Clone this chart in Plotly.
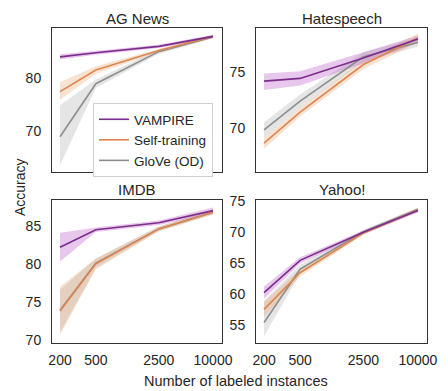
import plotly.graph_objects as go
from plotly.subplots import make_subplots

sizes = [200, 500, 2500, 10000]
x_ticks = [200, 500, 2500, 10000]
x_ticklabels = ["200", "500", "2500", "10000"]
series_names = ["VAMPIRE", "Self-training", "GloVe (OD)"]

# AG News
ag_vampire = [84.1, 84.9, 86.1, 88.0]
ag_vampire_lo = [83.6, 84.5, 85.8, 87.7]
ag_vampire_hi = [84.6, 85.3, 86.4, 88.3]
ag_self = [77.5, 81.6, 85.3, 88.0]
ag_self_lo = [75.9, 80.9, 85.0, 87.7]
ag_self_hi = [79.3, 82.3, 85.6, 88.3]
ag_glove = [68.9, 79.0, 85.1, 87.9]
ag_glove_lo = [63.5, 78.2, 84.7, 87.6]
ag_glove_hi = [74.9, 79.8, 85.5, 88.2]

# Hatespeech
hs_vampire = [74.2, 74.45, 76.3, 78.0]
hs_vampire_lo = [73.4, 73.8, 75.8, 77.7]
hs_vampire_hi = [74.9, 75.1, 76.8, 78.3]
hs_self = [68.6, 71.4, 75.7, 78.1]
hs_self_lo = [68.1, 71.0, 75.3, 77.7]
hs_self_hi = [69.1, 71.8, 76.1, 78.5]
hs_glove = [69.8, 72.4, 76.4, 77.7]
hs_glove_lo = [69.1, 71.8, 76.0, 77.3]
hs_glove_hi = [70.5, 73.0, 76.8, 78.1]

# IMDB
im_vampire = [82.2, 84.5, 85.4, 87.0]
im_vampire_lo = [80.3, 84.2, 85.1, 86.6]
im_vampire_hi = [84.1, 84.8, 85.7, 87.4]
im_self = [73.8, 80.0, 84.6, 86.8]
im_self_lo = [70.7, 79.3, 84.3, 86.5]
im_self_hi = [77.0, 80.7, 84.9, 87.1]
im_glove = [73.9, 80.1, 84.6, 86.8]
im_glove_lo = [71.0, 79.5, 84.3, 86.5]
im_glove_hi = [76.6, 80.7, 84.9, 87.1]

# Yahoo!
ya_vampire = [60.2, 65.4, 69.9, 73.4]
ya_vampire_lo = [59.2, 64.9, 69.6, 73.1]
ya_vampire_hi = [61.2, 65.9, 70.2, 73.7]
ya_self = [57.5, 63.4, 69.8, 73.5]
ya_self_lo = [56.3, 62.8, 69.5, 73.2]
ya_self_hi = [58.7, 64.0, 70.1, 73.8]
ya_glove = [55.4, 64.0, 70.0, 73.6]
ya_glove_lo = [53.2, 63.3, 69.7, 73.3]
ya_glove_hi = [58.9, 64.7, 70.3, 73.9]

panels = [
    ("AG News", 1, 1, [(ag_vampire, ag_vampire_lo, ag_vampire_hi),
                       (ag_self, ag_self_lo, ag_self_hi),
                       (ag_glove, ag_glove_lo, ag_glove_hi)],
     [62.2, 89.6], [70, 80]),
    ("Hatespeech", 1, 2, [(hs_vampire, hs_vampire_lo, hs_vampire_hi),
                          (hs_self, hs_self_lo, hs_self_hi),
                          (hs_glove, hs_glove_lo, hs_glove_hi)],
     [66.0, 79.0], [70, 75]),
    ("IMDB", 2, 1, [(im_vampire, im_vampire_lo, im_vampire_hi),
                    (im_self, im_self_lo, im_self_hi),
                    (im_glove, im_glove_lo, im_glove_hi)],
     [69.6, 88.4], [70, 75, 80, 85]),
    ("Yahoo!", 2, 2, [(ya_vampire, ya_vampire_lo, ya_vampire_hi),
                      (ya_self, ya_self_lo, ya_self_hi),
                      (ya_glove, ya_glove_lo, ya_glove_hi)],
     [52.1, 75.1], [55, 60, 65, 70, 75]),
]

line_colors = ["#7b2d8b", "#dc8650", "#8e8e8e"]
band_colors = ["rgba(185,95,200,0.35)", "rgba(230,150,90,0.28)", "rgba(150,150,150,0.25)"]

# The page body has an 8px margin; the figure is sized/placed to compensate.
OFF = 8
W, H = 448 - OFF, 391 - OFF


def px_x(s):
    return (s - OFF) / W


def px_y(s):
    return 1 - (s - OFF) / H


xdom_left = [px_x(52), px_x(222)]
xdom_right = [px_x(256), px_x(427)]
ydom_top = [px_y(172), px_y(28)]
ydom_bot = [px_y(343), px_y(200)]

fig = make_subplots(rows=2, cols=2)
font_family = "Liberation Sans, Arial, sans-serif"
text_color = "#262626"

for title, r, c, series, yr, yticks in panels:
    order = [2, 1, 0]  # grey first, purple on top
    for i in order:
        mid, lo, hi = series[i]
        fig.add_trace(go.Scatter(x=sizes, y=hi, mode="lines", line=dict(width=0),
                                 showlegend=False, hoverinfo="skip"), row=r, col=c)
        fig.add_trace(go.Scatter(x=sizes, y=lo, mode="lines", line=dict(width=0),
                                 fill="tonexty", fillcolor=band_colors[i],
                                 showlegend=False, hoverinfo="skip"), row=r, col=c)
    for i in order:
        mid, lo, hi = series[i]
        fig.add_trace(go.Scatter(x=sizes, y=mid, mode="lines",
                                 line=dict(color=line_colors[i], width=1.6),
                                 name=series_names[i],
                                 showlegend=(r == 1 and c == 1)), row=r, col=c)
    fig.update_yaxes(range=yr, tickvals=yticks, row=r, col=c)

axes_common = dict(showline=True, mirror=True, linecolor="#333333", linewidth=1,
                   showgrid=False, zeroline=False, ticks="", automargin=False,
                   tickfont=dict(size=14, color=text_color, family=font_family))
fig.update_xaxes(type="log", range=[2.212, 4.1], tickvals=x_ticks, ticktext=x_ticklabels,
                 ticklabelstandoff=4, **axes_common)
fig.update_yaxes(ticklabelstandoff=7, **axes_common)
fig.update_xaxes(showticklabels=False, row=1)

fig.update_layout(
    xaxis=dict(domain=xdom_left), yaxis=dict(domain=ydom_top),
    xaxis2=dict(domain=xdom_right), yaxis2=dict(domain=ydom_top),
    xaxis3=dict(domain=xdom_left), yaxis3=dict(domain=ydom_bot),
    xaxis4=dict(domain=xdom_right), yaxis4=dict(domain=ydom_bot),
)

annotations = []
title_pos = [("AG News", px_x((52 + 222) / 2), px_y(18)),
             ("Hatespeech", px_x((256 + 427) / 2), px_y(18)),
             ("IMDB", px_x((52 + 222) / 2), px_y(189)),
             ("Yahoo!", px_x((256 + 427) / 2), px_y(189))]
for t, x, y in title_pos:
    annotations.append(dict(text=t, x=x, y=y, xref="paper", yref="paper",
                            xanchor="center", yanchor="middle", showarrow=False,
                            font=dict(size=15, color=text_color, family=font_family)))
annotations.append(dict(text="Accuracy", x=px_x(10), y=px_y(187), xref="paper", yref="paper",
                        textangle=-90, xanchor="left", yanchor="middle", showarrow=False,
                        font=dict(size=14, color=text_color, family=font_family)))
annotations.append(dict(text="Number of labeled instances", x=px_x(236), y=px_y(381),
                        xref="paper", yref="paper", xanchor="center", yanchor="middle",
                        showarrow=False,
                        font=dict(size=14.5, color=text_color, family=font_family)))

fig.update_layout(
    width=W, height=H, margin=dict(l=0, r=0, t=0, b=0),
    paper_bgcolor="white", plot_bgcolor="white",
    annotations=annotations,
    showlegend=True,
    legend=dict(x=px_x(93), y=px_y(103), xanchor="left", yanchor="top",
                traceorder="reversed",
                bgcolor="white", bordercolor="#d0d0d0", borderwidth=1,
                font=dict(size=13.5, color=text_color, family=font_family),
                tracegroupgap=0, itemwidth=30),
    font=dict(family=font_family),
)

fig.write_html("out.html")
